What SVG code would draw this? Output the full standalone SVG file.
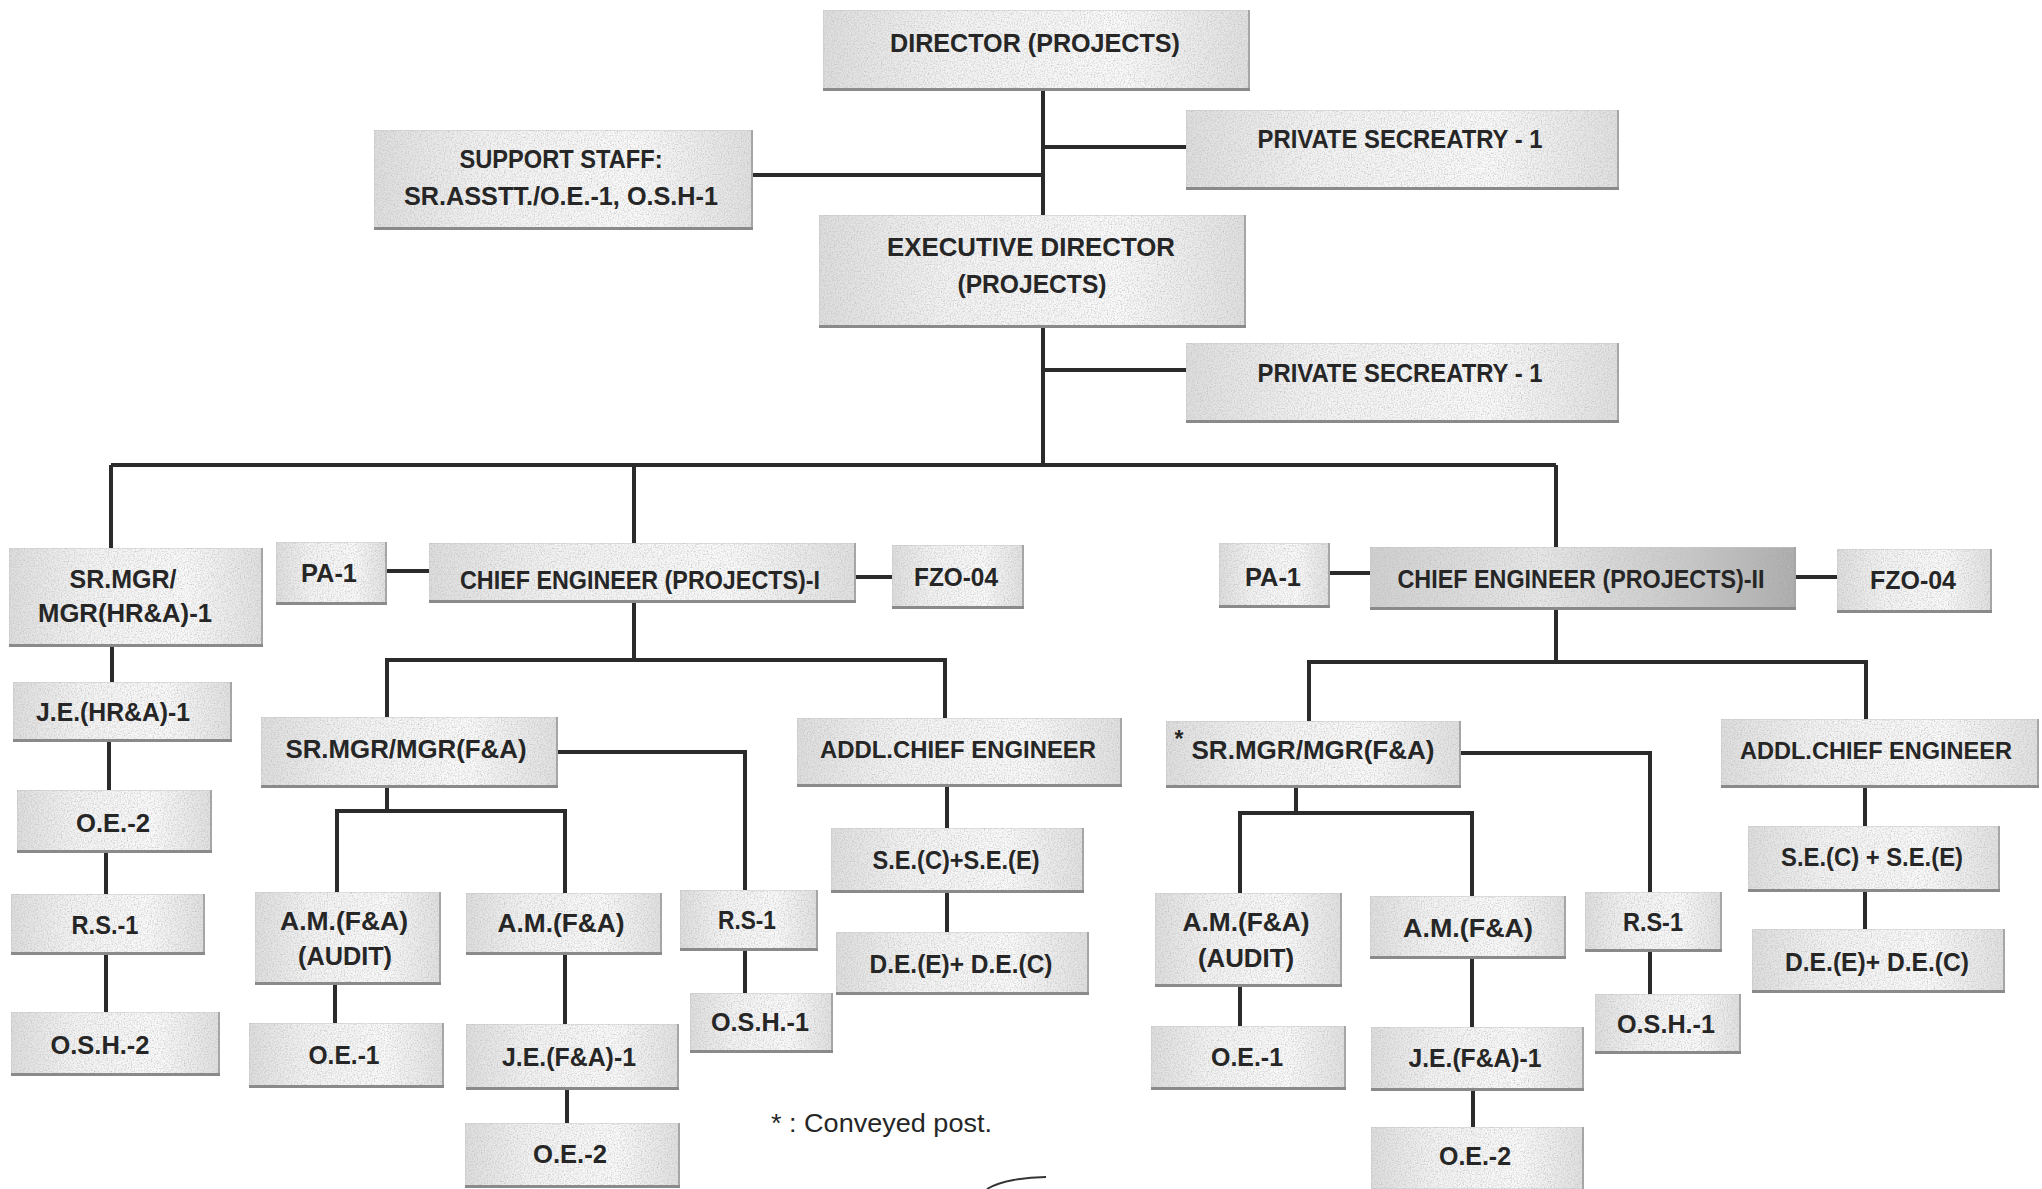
<svg xmlns="http://www.w3.org/2000/svg" width="2042" height="1189" viewBox="0 0 2042 1189">
<style>
.box{fill:url(#bg);stroke:#c9c9c9;stroke-width:1;filter:url(#grain)}
.dark{fill:url(#bgd)}
.sb{stroke:#8a8a8a;stroke-width:3;fill:none}
.sr{stroke:#a6a6a6;stroke-width:2;fill:none}
.t{font-family:"Liberation Sans",Arial,sans-serif;font-weight:bold;font-size:26.5px;fill:#262626;text-anchor:middle}
.ce{font-size:25px}
.ad{font-size:24px}
.note{font-family:"Liberation Sans",Arial,sans-serif;font-size:26px;fill:#262626}
.c path{stroke:#2b2b2b;stroke-width:4;fill:none}
</style>
<defs>
<linearGradient id="bg" x1="0" y1="0" x2="1" y2="0">
<stop offset="0" stop-color="#dedede"/>
<stop offset="0.3" stop-color="#f3f3f3"/>
<stop offset="0.7" stop-color="#fafafa"/>
<stop offset="1" stop-color="#e0e0e0"/>
</linearGradient>
<linearGradient id="bgd" x1="0" y1="0" x2="1" y2="0">
<stop offset="0" stop-color="#d0d0d0"/>
<stop offset="0.4" stop-color="#e8e8e8"/>
<stop offset="0.75" stop-color="#c8c8c8"/>
<stop offset="1" stop-color="#a9a9a9"/>
</linearGradient>
<filter id="grain" x="0" y="0" width="100%" height="100%">
<feTurbulence type="fractalNoise" baseFrequency="0.7" numOctaves="2" seed="4" result="n"/>
<feColorMatrix in="n" type="matrix" values="0 0 0 0 0.5 0 0 0 0 0.5 0 0 0 0 0.5 0 0 0 -1.8 1.05" result="s"/>
<feComposite in="s" in2="SourceGraphic" operator="in" result="s2"/>
<feMerge><feMergeNode in="SourceGraphic"/><feMergeNode in="s2"/></feMerge>
</filter>
</defs>
<rect width="2042" height="1189" fill="#ffffff"/>

<g id="connectors" class="c">
<path d="M1043 91V215"/>
<path d="M1043 147H1186"/>
<path d="M753 175H1043"/>
<path d="M1043 328V465"/>
<path d="M1043 370H1186"/>
<path d="M111 465H1556"/>
<path d="M111 465V548"/>
<path d="M634 465V543"/>
<path d="M1556 465V547"/>
<path d="M387 571H429"/>
<path d="M856 577H892"/>
<path d="M1330 573H1370"/>
<path d="M1796 577H1837"/>
<path d="M112 647V682"/>
<path d="M109 742V790"/>
<path d="M106 853V894"/>
<path d="M106 955V1012"/>
<path d="M634 603V660"/>
<path d="M387 717V660H945V718"/>
<path d="M558 752H745V890"/>
<path d="M387 788V811"/>
<path d="M337 892V811H565V893"/>
<path d="M335 985V1023"/>
<path d="M565 955V1024"/>
<path d="M567 1090V1123"/>
<path d="M745 951V993"/>
<path d="M947 787V828"/>
<path d="M947 893V932"/>
<path d="M1556 610V662"/>
<path d="M1309 721V662H1866V719"/>
<path d="M1461 753H1650V892"/>
<path d="M1296 788V813"/>
<path d="M1240 893V813H1472V896"/>
<path d="M1240 987V1026"/>
<path d="M1472 959V1027"/>
<path d="M1473 1091V1127"/>
<path d="M1650 952V994"/>
<path d="M1865 788V826"/>
<path d="M1865 892V929"/>
</g>

<g id="n-director"><rect class="box" x="823" y="10" width="427" height="81"/><path class="sr" d="M1249 10V91"/><path class="sb" d="M823 89.5H1250"/><text class="t" x="1035" y="52" textLength="290" lengthAdjust="spacingAndGlyphs">DIRECTOR (PROJECTS)</text></g>
<g id="n-ps1"><rect class="box" x="1186" y="110" width="433" height="80"/><path class="sr" d="M1618 110V190"/><path class="sb" d="M1186 188.5H1619"/><text class="t" x="1400" y="148" textLength="285" lengthAdjust="spacingAndGlyphs">PRIVATE SECREATRY - 1</text></g>
<g id="n-support"><rect class="box" x="374" y="130" width="379" height="100"/><path class="sr" d="M752 130V230"/><path class="sb" d="M374 228.5H753"/><text class="t" x="561" y="168" textLength="203" lengthAdjust="spacingAndGlyphs">SUPPORT STAFF:</text><text class="t" x="561" y="205" textLength="314" lengthAdjust="spacingAndGlyphs">SR.ASSTT./O.E.-1, O.S.H-1</text></g>
<g id="n-ed"><rect class="box" x="819" y="215" width="427" height="113"/><path class="sr" d="M1245 215V328"/><path class="sb" d="M819 326.5H1246"/><text class="t" x="1031" y="256" textLength="288" lengthAdjust="spacingAndGlyphs">EXECUTIVE DIRECTOR</text><text class="t" x="1032" y="293" textLength="149" lengthAdjust="spacingAndGlyphs">(PROJECTS)</text></g>
<g id="n-ps2"><rect class="box" x="1186" y="343" width="433" height="80"/><path class="sr" d="M1618 343V423"/><path class="sb" d="M1186 421.5H1619"/><text class="t" x="1400" y="382" textLength="285" lengthAdjust="spacingAndGlyphs">PRIVATE SECREATRY - 1</text></g>

<g id="n-hr"><rect class="box" x="9" y="548" width="254" height="99"/><path class="sr" d="M262 548V647"/><path class="sb" d="M9 645.5H263"/><text class="t" x="123" y="588" textLength="107" lengthAdjust="spacingAndGlyphs">SR.MGR/</text><text class="t" x="125" y="622" textLength="174" lengthAdjust="spacingAndGlyphs">MGR(HR&amp;A)-1</text></g>
<g id="n-pa1-l"><rect class="box" x="276" y="542" width="111" height="63"/><path class="sr" d="M386 542V605"/><path class="sb" d="M276 603.5H387"/><text class="t" x="329" y="582" textLength="56" lengthAdjust="spacingAndGlyphs">PA-1</text></g>
<g id="n-ce1"><rect class="box" x="429" y="543" width="427" height="60"/><path class="sr" d="M855 543V603"/><path class="sb" d="M429 601.5H856"/><text class="t ce" x="640" y="589" textLength="360" lengthAdjust="spacingAndGlyphs">CHIEF ENGINEER (PROJECTS)-I</text></g>
<g id="n-fzo-l"><rect class="box" x="892" y="545" width="132" height="64"/><path class="sr" d="M1023 545V609"/><path class="sb" d="M892 607.5H1024"/><text class="t" x="956" y="586" textLength="84" lengthAdjust="spacingAndGlyphs">FZO-04</text></g>
<g id="n-pa1-r"><rect class="box" x="1219" y="543" width="111" height="65"/><path class="sr" d="M1329 543V608"/><path class="sb" d="M1219 606.5H1330"/><text class="t" x="1273" y="586" textLength="56" lengthAdjust="spacingAndGlyphs">PA-1</text></g>
<g id="n-ce2"><rect class="box dark" x="1370" y="547" width="426" height="63"/><path class="sr" d="M1795 547V610"/><path class="sb" d="M1370 608.5H1796"/><text class="t ce" x="1581" y="588" textLength="367" lengthAdjust="spacingAndGlyphs">CHIEF ENGINEER (PROJECTS)-II</text></g>
<g id="n-fzo-r"><rect class="box" x="1837" y="549" width="155" height="64"/><path class="sr" d="M1991 549V613"/><path class="sb" d="M1837 611.5H1992"/><text class="t" x="1913" y="589" textLength="86" lengthAdjust="spacingAndGlyphs">FZO-04</text></g>

<g id="n-je-hr"><rect class="box" x="13" y="682" width="219" height="60"/><path class="sr" d="M231 682V742"/><path class="sb" d="M13 740.5H232"/><text class="t" x="113" y="721" textLength="154" lengthAdjust="spacingAndGlyphs">J.E.(HR&amp;A)-1</text></g>
<g id="n-oe2-hr"><rect class="box" x="17" y="790" width="195" height="63"/><path class="sr" d="M211 790V853"/><path class="sb" d="M17 851.5H212"/><text class="t" x="113" y="832" textLength="74" lengthAdjust="spacingAndGlyphs">O.E.-2</text></g>
<g id="n-rs-hr"><rect class="box" x="11" y="894" width="194" height="61"/><path class="sr" d="M204 894V955"/><path class="sb" d="M11 953.5H205"/><text class="t" x="105" y="934" textLength="67" lengthAdjust="spacingAndGlyphs">R.S.-1</text></g>
<g id="n-osh2-hr"><rect class="box" x="11" y="1012" width="209" height="64"/><path class="sr" d="M219 1012V1076"/><path class="sb" d="M11 1074.5H220"/><text class="t" x="100" y="1054" textLength="99" lengthAdjust="spacingAndGlyphs">O.S.H.-2</text></g>

<g id="n-srm-l"><rect class="box" x="261" y="717" width="297" height="71"/><path class="sr" d="M557 717V788"/><path class="sb" d="M261 786.5H558"/><text class="t" x="406" y="758" textLength="241" lengthAdjust="spacingAndGlyphs">SR.MGR/MGR(F&amp;A)</text></g>
<g id="n-addl-l"><rect class="box" x="797" y="718" width="325" height="69"/><path class="sr" d="M1121 718V787"/><path class="sb" d="M797 785.5H1122"/><text class="t ad" x="958" y="758" textLength="276" lengthAdjust="spacingAndGlyphs">ADDL.CHIEF ENGINEER</text></g>
<g id="n-srm-r"><rect class="box" x="1166" y="721" width="295" height="67"/><path class="sr" d="M1460 721V788"/><path class="sb" d="M1166 786.5H1461"/><text class="t" x="1179" y="747" style="font-size:23px">*</text><text class="t" x="1313" y="759" textLength="243" lengthAdjust="spacingAndGlyphs">SR.MGR/MGR(F&amp;A)</text></g>
<g id="n-addl-r"><rect class="box" x="1721" y="719" width="318" height="69"/><path class="sr" d="M2038 719V788"/><path class="sb" d="M1721 786.5H2039"/><text class="t ad" x="1876" y="759" textLength="272" lengthAdjust="spacingAndGlyphs">ADDL.CHIEF ENGINEER</text></g>

<g id="n-ama-l"><rect class="box" x="255" y="892" width="186" height="93"/><path class="sr" d="M440 892V985"/><path class="sb" d="M255 983.5H441"/><text class="t" x="344" y="930" textLength="128" lengthAdjust="spacingAndGlyphs">A.M.(F&amp;A)</text><text class="t" x="345" y="965" textLength="94" lengthAdjust="spacingAndGlyphs">(AUDIT)</text></g>
<g id="n-am-l"><rect class="box" x="466" y="893" width="196" height="62"/><path class="sr" d="M661 893V955"/><path class="sb" d="M466 953.5H662"/><text class="t" x="561" y="932" textLength="127" lengthAdjust="spacingAndGlyphs">A.M.(F&amp;A)</text></g>
<g id="n-oe1-l"><rect class="box" x="249" y="1023" width="195" height="65"/><path class="sr" d="M443 1023V1088"/><path class="sb" d="M249 1086.5H444"/><text class="t" x="344" y="1064" textLength="71" lengthAdjust="spacingAndGlyphs">O.E.-1</text></g>
<g id="n-je-l"><rect class="box" x="466" y="1024" width="213" height="66"/><path class="sr" d="M678 1024V1090"/><path class="sb" d="M466 1088.5H679"/><text class="t" x="569" y="1066" textLength="134" lengthAdjust="spacingAndGlyphs">J.E.(F&amp;A)-1</text></g>
<g id="n-oe2-l"><rect class="box" x="465" y="1123" width="215" height="65"/><path class="sr" d="M679 1123V1188"/><path class="sb" d="M465 1186.5H680"/><text class="t" x="570" y="1163" textLength="74" lengthAdjust="spacingAndGlyphs">O.E.-2</text></g>
<g id="n-rs-l"><rect class="box" x="680" y="890" width="138" height="61"/><path class="sr" d="M817 890V951"/><path class="sb" d="M680 949.5H818"/><text class="t" x="747" y="929" textLength="58" lengthAdjust="spacingAndGlyphs">R.S-1</text></g>
<g id="n-osh-l"><rect class="box" x="690" y="993" width="143" height="60"/><path class="sr" d="M832 993V1053"/><path class="sb" d="M690 1051.5H833"/><text class="t" x="760" y="1031" textLength="98" lengthAdjust="spacingAndGlyphs">O.S.H.-1</text></g>
<g id="n-se-l"><rect class="box" x="831" y="828" width="253" height="65"/><path class="sr" d="M1083 828V893"/><path class="sb" d="M831 891.5H1084"/><text class="t" x="956" y="869" textLength="167" lengthAdjust="spacingAndGlyphs">S.E.(C)+S.E.(E)</text></g>
<g id="n-de-l"><rect class="box" x="836" y="932" width="253" height="63"/><path class="sr" d="M1088 932V995"/><path class="sb" d="M836 993.5H1089"/><text class="t" x="961" y="973" textLength="183" lengthAdjust="spacingAndGlyphs">D.E.(E)+ D.E.(C)</text></g>

<g id="n-ama-r"><rect class="box" x="1155" y="893" width="187" height="94"/><path class="sr" d="M1341 893V987"/><path class="sb" d="M1155 985.5H1342"/><text class="t" x="1246" y="931" textLength="127" lengthAdjust="spacingAndGlyphs">A.M.(F&amp;A)</text><text class="t" x="1246" y="967" textLength="96" lengthAdjust="spacingAndGlyphs">(AUDIT)</text></g>
<g id="n-oe1-r"><rect class="box" x="1151" y="1026" width="195" height="64"/><path class="sr" d="M1345 1026V1090"/><path class="sb" d="M1151 1088.5H1346"/><text class="t" x="1247" y="1066" textLength="72" lengthAdjust="spacingAndGlyphs">O.E.-1</text></g>
<g id="n-am-r"><rect class="box" x="1370" y="896" width="196" height="63"/><path class="sr" d="M1565 896V959"/><path class="sb" d="M1370 957.5H1566"/><text class="t" x="1468" y="937" textLength="130" lengthAdjust="spacingAndGlyphs">A.M.(F&amp;A)</text></g>
<g id="n-je-r"><rect class="box" x="1371" y="1027" width="213" height="64"/><path class="sr" d="M1583 1027V1091"/><path class="sb" d="M1371 1089.5H1584"/><text class="t" x="1475" y="1067" textLength="133" lengthAdjust="spacingAndGlyphs">J.E.(F&amp;A)-1</text></g>
<g id="n-oe2-r"><rect class="box" x="1371" y="1127" width="213" height="62"/><path class="sr" d="M1583 1127V1189"/><text class="t" x="1475" y="1165" textLength="72" lengthAdjust="spacingAndGlyphs">O.E.-2</text></g>
<g id="n-rs-r"><rect class="box" x="1585" y="892" width="137" height="60"/><path class="sr" d="M1721 892V952"/><path class="sb" d="M1585 950.5H1722"/><text class="t" x="1653" y="931" textLength="60" lengthAdjust="spacingAndGlyphs">R.S-1</text></g>
<g id="n-osh-r"><rect class="box" x="1595" y="994" width="146" height="60"/><path class="sr" d="M1740 994V1054"/><path class="sb" d="M1595 1052.5H1741"/><text class="t" x="1666" y="1033" textLength="98" lengthAdjust="spacingAndGlyphs">O.S.H.-1</text></g>
<g id="n-se-r"><rect class="box" x="1748" y="826" width="252" height="66"/><path class="sr" d="M1999 826V892"/><path class="sb" d="M1748 890.5H2000"/><text class="t" x="1872" y="866" textLength="182" lengthAdjust="spacingAndGlyphs">S.E.(C) + S.E.(E)</text></g>
<g id="n-de-r"><rect class="box" x="1752" y="929" width="253" height="64"/><path class="sr" d="M2004 929V993"/><path class="sb" d="M1752 991.5H2005"/><text class="t" x="1877" y="971" textLength="184" lengthAdjust="spacingAndGlyphs">D.E.(E)+ D.E.(C)</text></g>

<g id="note"><text class="note" x="771" y="1132" textLength="221" lengthAdjust="spacingAndGlyphs">* : Conveyed post.</text></g>
<path d="M987 1189C1000 1181 1025 1177 1046 1177" stroke="#333" stroke-width="2" fill="none"/>
</svg>
